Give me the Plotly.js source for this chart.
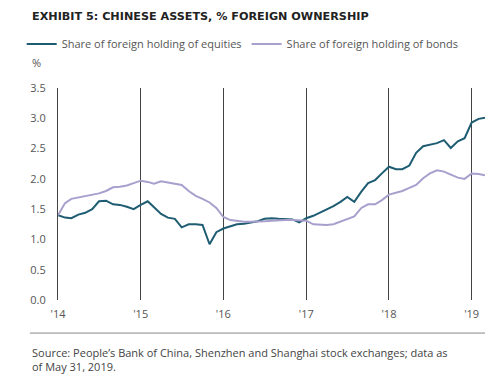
<!DOCTYPE html>
<html>
<head>
<meta charset="utf-8">
<script src="https://cdn.plot.ly/plotly-3.0.1.min.js"></script>
<style>html,body{margin:0;padding:0;background:#fff;}#chart{width:502px;height:384px;}</style>
</head>
<body>
<div id="chart"></div>
<script>
// Monthly observations, Jan 2014 - Mar 2019
var startYear = 2014;
var nMonths = 63;
var equities = [
  1.40, 1.36, 1.35, 1.41, 1.44, 1.50, 1.63, 1.64, 1.58, 1.57, 1.54, 1.50,
  1.57, 1.63, 1.53, 1.42, 1.36, 1.34, 1.20, 1.25, 1.25, 1.24, 0.92, 1.12,
  1.18, 1.22, 1.25, 1.26, 1.28, 1.30, 1.34, 1.35, 1.34, 1.33, 1.33, 1.28,
  1.35, 1.39, 1.44, 1.50, 1.55, 1.62, 1.70, 1.62, 1.79, 1.93, 1.98, 2.09,
  2.20, 2.16, 2.16, 2.22, 2.43, 2.54, 2.56, 2.59, 2.64, 2.51, 2.62, 2.67,
  2.93, 2.99, 3.01
];
var bonds = [
  1.40, 1.60, 1.67, 1.69, 1.71, 1.73, 1.76, 1.80, 1.86, 1.87, 1.89, 1.93,
  1.97, 1.95, 1.92, 1.96, 1.94, 1.92, 1.90, 1.80, 1.72, 1.67, 1.61, 1.52,
  1.37, 1.32, 1.30, 1.29, 1.29, 1.29, 1.30, 1.31, 1.32, 1.32, 1.32, 1.32,
  1.31, 1.25, 1.24, 1.24, 1.25, 1.29, 1.33, 1.38, 1.52, 1.58, 1.58, 1.65,
  1.74, 1.77, 1.80, 1.85, 1.90, 2.01, 2.09, 2.14, 2.12, 2.07, 2.02, 2.00,
  2.09, 2.08, 2.06
];
var seriesNames = ['Share of foreign holding of equities', 'Share of foreign holding of bonds'];
var tickYears = ['2014-01-01','2015-01-01','2016-01-01','2017-01-01','2018-01-01','2019-01-01'];
var tickLabels = ["'14","'15","'16","'17","'18","'19"];
var yTicks = [0, 0.5, 1, 1.5, 2, 2.5, 3, 3.5];
var titleText = 'EXHIBIT 5: CHINESE ASSETS, % FOREIGN OWNERSHIP';
var unitText = '%';
var sourceText = 'Source: People’s Bank of China, Shenzhen and Shanghai stock exchanges; data as<br>of May 31, 2019.';

var dates = [];
for (var i = 0; i < nMonths; i++) {
  var y = startYear + Math.floor(i / 12);
  var m = (i % 12) + 1;
  dates.push(y + '-' + (m < 10 ? '0' + m : m) + '-01');
}

var FONT = 'Open Sans, Liberation Sans, sans-serif';
var traces = [
  {x: dates, y: equities, name: seriesNames[0], type: 'scatter', mode: 'lines',
   line: {color: '#1e5c72', width: 2}},
  {x: dates, y: bonds, name: seriesNames[1], type: 'scatter', mode: 'lines',
   line: {color: '#a89fcd', width: 2}}
];

var layout = {
  width: 502, height: 384,
  margin: {l: 58, r: 17, t: 88, b: 84, pad: 0},
  paper_bgcolor: '#fff', plot_bgcolor: '#fff',
  font: {family: FONT, size: 11, color: '#555'},
  showlegend: true,
  legend: {orientation: 'h', x: -0.085, xanchor: 'left', y: 1.2075, yanchor: 'middle',
           font: {family: FONT, size: 11, color: '#555'}, bgcolor: 'rgba(0,0,0,0)',
           itemwidth: 30, tracegroupgap: 0, traceorder: 'normal'},
  xaxis: {type: 'date', range: [dates[0], dates[nMonths - 1]],
          tickvals: tickYears, ticktext: tickLabels, tickmode: 'array',
          showgrid: true, gridcolor: '#444', gridwidth: 1,
          showline: false, zeroline: false, ticks: '', ticklen: 0, ticklabelstandoff: 6,
          tickfont: {family: FONT, size: 11, color: '#555'}, fixedrange: true},
  yaxis: {range: [0, 3.5], tickvals: yTicks, tickformat: '.1f', tickmode: 'array',
          showgrid: false, zeroline: false, showline: true, linecolor: '#444', linewidth: 1,
          ticks: '', ticklabelstandoff: 9,
          tickfont: {family: FONT, size: 11, color: '#555'}, fixedrange: true},
  annotations: [
    {text: '<b>' + titleText + '</b>', xref: 'paper', yref: 'paper', x: -0.0656, y: 1.335,
     xanchor: 'left', yanchor: 'middle', showarrow: false,
     font: {family: 'DejaVu Sans, sans-serif', size: 11.2, color: '#222'}},
    {text: unitText, xref: 'paper', yref: 'paper', x: -0.0656, y: 1.118,
     xanchor: 'left', yanchor: 'middle', showarrow: false,
     font: {family: FONT, size: 11, color: '#555'}},
    {text: sourceText, xref: 'paper', yref: 'paper', x: -0.0656, y: -0.205,
     xanchor: 'left', yanchor: 'top', align: 'left', showarrow: false,
     font: {family: FONT, size: 11, color: '#444'}}
  ],
  shapes: [
    {type: 'line', xref: 'paper', yref: 'paper', x0: -0.0656, x1: 1.0, y0: -0.156, y1: -0.156,
     line: {color: '#888', width: 1}}
  ]
};

Plotly.newPlot('chart', traces, layout, {displayModeBar: false, staticPlot: true});
</script>
</body>
</html>
